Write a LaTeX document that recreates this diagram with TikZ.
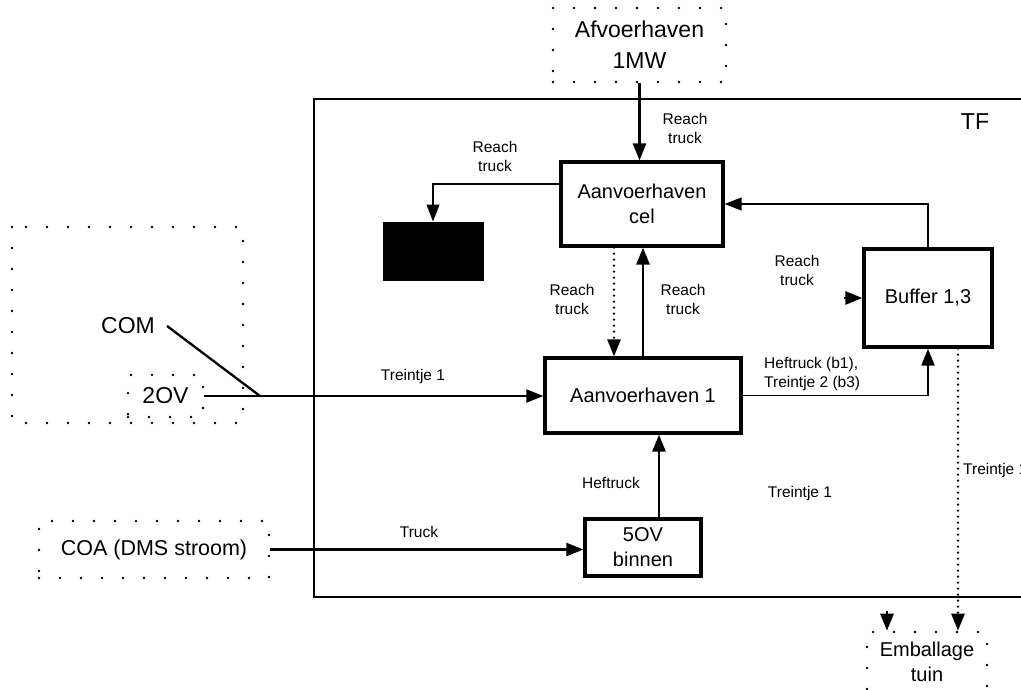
\documentclass[tikz,border=0pt]{standalone}
\usepackage{fontspec}
\setmainfont{Liberation Sans}
\usetikzlibrary{arrows.meta}
\tikzset{
  smalltxt/.style={font=\fontsize{15.5}{19}\selectfont, inner sep=0pt, align=center},
  midtxt/.style={font=\fontsize{20}{25}\selectfont, align=center},
  bigtxt/.style={font=\fontsize{23}{31}\selectfont, align=center},
  solidbox/.style={draw, line width=3.2pt, inner sep=0pt, midtxt},
  dotbox/.style={draw, line width=2.6pt, line cap=round, dash pattern=on 0pt off 21pt, inner sep=0pt},
  tip/.style={-{Triangle[length=17pt,width=13pt]}},
  thickarrow/.style={line width=2.6pt, tip},
  thinarrow/.style={line width=1.3pt, tip},
  dotarrow/.style={line width=2.6pt, line cap=round, dash pattern=on 0pt off 6pt, tip},
}
\begin{document}
\begin{tikzpicture}[x=1pt,y=-1pt]
\useasboundingbox (0,0) rectangle (1021,689);
\clip (0,0) rectangle (1021,689);
% TF frame
\draw[line width=2.6pt] (314,99) rectangle (1040,597);
\node[bigtxt] (tf) at (975,122) {TF};
% outer dotted boxes
\draw[dotbox] (12,227) rectangle (243,423);
\node[dotbox, bigtxt, minimum width=173pt, minimum height=74pt] (afv) at (639.5,45) {Afvoerhaven\\1MW};
\node[dotbox, bigtxt, minimum width=75pt, minimum height=42pt] (ov2) at (165.5,396) {2OV};
\node[dotbox, font=\fontsize{21.5}{26}\selectfont, minimum width=230pt, minimum height=57pt] (coa) at (154,549.5) {COA (DMS stroom)};
\node[dotbox, midtxt, minimum width=120pt, minimum height=60pt] (emb) at (927,662) {Emballage\\tuin};
\node[bigtxt, inner sep=0pt] (com) at (128,326) {COM};
% solid boxes
\node[solidbox, minimum width=162pt, minimum height=84pt] (cel) at (642,204) {Aanvoerhaven\\cel};
\node[solidbox, minimum width=196pt, minimum height=75pt] (a1) at (643,395.5) {Aanvoerhaven 1};
\node[solidbox, minimum width=116pt, minimum height=57pt] (ov5) at (643,547.5) {5OV\\binnen};
\node[solidbox, minimum width=128pt, minimum height=98pt] (buf) at (928,298) {Buffer 1,3};
\node[draw, fill=black, line width=1pt, minimum width=100pt, minimum height=58pt, inner sep=0pt] (blk) at (433,251) {};
% connectors
\draw[thickarrow] (afv.south) -- (afv.south |- cel.north);
\draw[thinarrow] ([yshift=20pt]cel.west) -| (blk.north);
\draw[dotarrow] ([xshift=-28pt]cel.south) -- ([xshift=-28pt]cel.south |- a1.north);
\draw[thickarrow] (a1.north) -- (a1.north |- cel.south);
\coordinate (j) at (260,396);
\draw[line width=2.3pt] ([xshift=12pt]com.east) -- (j);
\draw[line width=2.1pt, tip] (ov2.east) -- (ov2.east -| a1.west);
\draw[line width=2.1pt, tip] (coa.east) -- (coa.east -| ov5.west);
\draw[thickarrow] ([xshift=16pt]ov5.north) -- ([xshift=16pt]ov5.north |- a1.south);
\draw[line width=1.8pt, tip] (a1.east) -| (buf.south);
\draw[thinarrow] (buf.north) |- (cel.east);
\draw[thickarrow] ([xshift=-18pt]buf.west) -- (buf.west);
\draw[dotarrow] ([xshift=30pt]buf.south) -- ([xshift=30pt]buf.south |- emb.north);
\draw[thickarrow] ([xshift=-40pt,yshift=20pt]emb.north) -- ([xshift=-40pt]emb.north);
% labels
\node[smalltxt] (l1) at (685,128) {Reach\\truck};
\node[smalltxt] (l2) at (495,156) {Reach\\truck};
\node[smalltxt] (l3) at (572,299) {Reach\\truck};
\node[smalltxt] (l4) at (683,299) {Reach\\truck};
\node[smalltxt] (l5) at (797,270) {Reach\\truck};
\node[smalltxt] (l6) at (413,376) {Treintje 1};
\node[smalltxt] (l7) at (419,532) {Truck};
\node[smalltxt] (l8) at (611,483) {Heftruck};
\node[smalltxt] (l9) at (800,493) {Treintje 1};
\node[smalltxt, align=left, anchor=west] (l10) at (764,374) {Heftruck (b1),\\Treintje 2 (b3)};
\node[smalltxt, anchor=west] (l11) at (963,470) {Treintje 1};
\end{tikzpicture}
\end{document}
